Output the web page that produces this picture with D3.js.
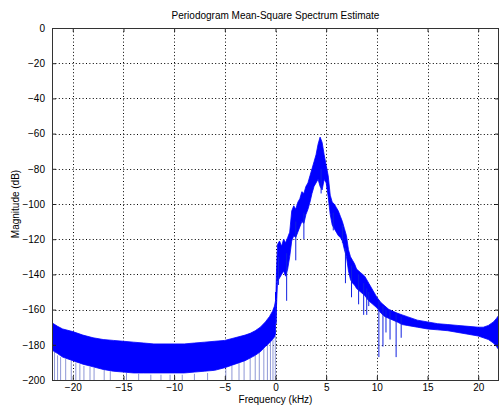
<!DOCTYPE html>
<html>
<head>
<meta charset="utf-8">
<script src="https://cdn.jsdelivr.net/npm/d3@7"></script>
<style>
  body { margin: 0; background: #fff; }
  text { font-family: "Liberation Sans", Arial, Helvetica, sans-serif; font-size: 10px; fill: #000; }
</style>
</head>
<body>
<div class="container"></div>
<script>
// DATA (kHz, dB)
const negFreq = [-22.05, -21.5, -21, -20, -19, -18, -17, -16, -15, -14, -13, -12, -11, -10, -9, -8, -7, -6, -5, -4, -3, -2.5, -2, -1.5, -1, -0.6, -0.3, -0.1, 0];
const negUpper = [-167.5, -169.5, -171, -172.5, -174.5, -176, -177, -177.5, -178, -178.5, -179, -179.5, -179.5, -179.5, -179.5, -179, -178.5, -178, -177.5, -176, -174.5, -173.5, -172, -170, -167, -164, -161, -158, -155];
const negLower = [-183, -185, -187, -189, -191, -192.5, -194, -195, -195.5, -196, -196, -196, -196, -196, -196, -195.5, -195, -194.5, -193, -191, -189, -187.5, -186, -184, -181, -179, -177, -175.5, -174];

const posFreq = [0.05, 0.1, 0.2, 0.4, 0.6, 0.8, 1.0, 1.2, 1.4, 1.6, 1.8, 2.0, 2.2, 2.4, 2.6, 2.8, 3.0, 3.2, 3.4, 3.6, 3.8, 4.0, 4.2, 4.4, 4.6, 4.8, 5.0, 5.2, 5.4, 5.6, 5.8, 6.0, 6.2, 6.4, 6.6, 6.8, 7.0, 7.2, 7.4, 7.6, 7.8, 8.0, 8.4, 8.8, 9.2, 9.6, 10.0, 10.4, 10.8, 11.2, 11.6, 12.0, 12.5, 13, 14, 15, 16, 17, 18, 19, 20, 20.5, 21, 21.5, 21.8, 22.05];
const posUpper = [-150, -138, -123, -121, -124, -120, -122, -119, -116, -104, -101, -103, -99, -97, -93, -94, -90, -88, -84, -80, -76, -72, -66, -62, -65, -72, -78, -84, -95, -99, -100, -102, -104, -107, -110, -114, -118, -126, -130, -132, -134, -137, -139, -141, -145, -149, -153, -156, -158, -160, -161, -162, -163, -164, -166, -167, -168, -168.5, -169, -169.5, -170, -170, -169, -167, -165, -163];
const posLower = [-168, -158, -144, -142, -140, -138, -141, -137, -130, -121, -118, -119, -116, -113, -110, -111, -106, -103, -99, -94, -90, -88, -86, -90, -92, -86, -88, -96, -106, -112, -114, -116, -118, -119, -121, -126, -130, -138, -143, -145, -146, -148, -150, -152, -155, -157, -159, -162, -164, -165, -166, -167, -168.5, -169, -170, -171, -171.5, -172, -173, -174, -175, -176, -177, -179, -181, -183];

// deep dips below the band
const notchFreq = [0.3, 1.1, 2.0, 2.8, 4.5, 5.7, 6.6, 6.9, 7.5, 8.2, 8.7, 9.0, 9.2, 10.2, 10.6, 10.9, 11.3, 11.9, 12.4];
const notchTop = [-130, -128, -110, -105, -80, -105, -112, -125, -135, -140, -145, -148, -150, -155, -158, -160, -160, -162, -164];
const notchLow = [-146, -155, -132, -120, -94, -115, -122, -145, -153, -157, -163, -163, -158, -187, -181, -173, -177, -187, -176];

// faint lines down to the floor on the negative side
const floorFreq = [-22.0, -21.8, -21.5, -21.2, -20.7, -20.15, -19.7, -19.3, -18.9, -18.3, -17.9, -16.9, -16.3, -14.7, -13.5, -12.3, -11.3, -10.4, -9.2, -8.0, -6.7, -4.9, -4.3, -3.6, -3.1, -2.5, -2.0, -1.6, -1.15, -0.8, -0.5, -0.25, -0.02];
const floorTop = [-183, -184, -186, -187, -188, -189, -190, -191, -192, -192.5, -193, -194, -195, -196, -196.5, -197, -197, -197, -197, -196.5, -196, -193.5, -192, -190, -189, -187.5, -186, -184.5, -182, -180, -178.5, -177, -175];

const xTicks = [-20, -15, -10, -5, 0, 5, 10, 15, 20];
const yTicks = [0, -20, -40, -60, -80, -100, -120, -140, -160, -180, -200];

// RENDER
const width = 500;
const height = 407;
const margin = { top: 28, right: 1, bottom: 27, left: 52 };

const x = d3.scaleLinear().domain([-22.05, 22.05]).range([margin.left, width - margin.right]);
const y = d3.scaleLinear().domain([-200, 0]).range([height - margin.bottom, margin.top]);

const svg = d3.select(".container")
  .append("svg")
  .attr("width", width)
  .attr("height", height);

svg.append("defs").append("clipPath")
  .attr("id", "plot")
  .append("rect")
  .attr("x", x.range()[0])
  .attr("y", y.range()[1])
  .attr("width", x.range()[1] - x.range()[0])
  .attr("height", y.range()[0] - y.range()[1]);

// grid
const grid = svg.append("g")
  .attr("stroke", "#000")
  .attr("stroke-width", 1)
  .attr("stroke-dasharray", "1,2.4");

grid.selectAll(".vgrid")
  .data(xTicks)
  .enter()
  .append("line")
  .attr("x1", d => Math.round(x(d)) + 0.5)
  .attr("x2", d => Math.round(x(d)) + 0.5)
  .attr("y1", y(0))
  .attr("y2", y(-200));

grid.selectAll(".hgrid")
  .data(yTicks.slice(1, -1))
  .enter()
  .append("line")
  .attr("y1", d => Math.round(y(d)) + 0.5)
  .attr("y2", d => Math.round(y(d)) + 0.5)
  .attr("x1", x.range()[0])
  .attr("x2", x.range()[1]);

// spectrum
const plot = svg.append("g").attr("clip-path", "url(#plot)");

const band = (freq, upper, lower) =>
  freq.map((f, i) => ({ f, hi: upper[i], lo: lower[i] }));

const area = d3.area()
  .x(d => x(d.f))
  .y0(d => y(d.lo))
  .y1(d => y(d.hi));

plot.selectAll(".floor")
  .data(floorFreq)
  .enter()
  .append("line")
  .attr("class", "floor")
  .attr("x1", d => x(d))
  .attr("x2", d => x(d))
  .attr("y1", (_, i) => y(floorTop[i]))
  .attr("y2", y(-200))
  .attr("stroke", "#8e97d6")
  .attr("stroke-width", 1);

plot.selectAll(".band")
  .data([band(negFreq, negUpper, negLower), band(posFreq, posUpper, posLower)])
  .enter()
  .append("path")
  .attr("class", "band")
  .attr("d", area)
  .attr("fill", "#0000ff")
  .attr("stroke", "#0000ff")
  .attr("stroke-width", 0.8);

plot.selectAll(".notch")
  .data(notchFreq)
  .enter()
  .append("line")
  .attr("class", "notch")
  .attr("x1", d => x(d))
  .attr("x2", d => x(d))
  .attr("y1", (_, i) => y(notchTop[i]))
  .attr("y2", (_, i) => y(notchLow[i]))
  .attr("stroke", "#1020e0")
  .attr("stroke-width", 1);

// join at 0 Hz
plot.append("line")
  .attr("x1", x(0))
  .attr("x2", x(0))
  .attr("y1", y(negUpper[negUpper.length - 1]))
  .attr("y2", y(posUpper[0]))
  .attr("stroke", "#0000ff");

// axes, ticks pointing inward
const axisStyle = g => {
  g.select(".domain").remove();
  g.selectAll(".tick line").attr("stroke", "#222");
  g.selectAll("text").attr("font-family", null).attr("font-size", null);
};

svg.append("g")
  .attr("transform", `translate(0,${y(-200)})`)
  .call(d3.axisBottom(x).tickValues(xTicks).tickSize(-4).tickPadding(4).tickFormat(d3.format("d")))
  .call(axisStyle);

svg.append("g")
  .attr("transform", `translate(0,${y(0)})`)
  .call(d3.axisTop(x).tickValues(xTicks).tickSize(-4).tickFormat(""))
  .call(axisStyle);

svg.append("g")
  .attr("transform", `translate(${x.range()[0]},0)`)
  .call(d3.axisLeft(y).tickValues(yTicks).tickSize(-4).tickPadding(7).tickFormat(d3.format("d")))
  .call(axisStyle);

svg.append("g")
  .attr("transform", `translate(${x.range()[1]},0)`)
  .call(d3.axisRight(y).tickValues(yTicks).tickSize(-4).tickFormat(""))
  .call(axisStyle);

svg.append("rect")
  .attr("x", x.range()[0] + 0.5)
  .attr("y", y(0) + 0.5)
  .attr("width", x.range()[1] - x.range()[0] - 1)
  .attr("height", y(-200) - y(0))
  .attr("fill", "none")
  .attr("stroke", "#333");

// labels
svg.append("text")
  .attr("x", (x.range()[0] + x.range()[1]) / 2)
  .attr("y", 19)
  .attr("text-anchor", "middle")
  .text("Periodogram Mean-Square Spectrum Estimate");

svg.append("text")
  .attr("x", (x.range()[0] + x.range()[1]) / 2)
  .attr("y", 403)
  .attr("text-anchor", "middle")
  .text("Frequency (kHz)");

svg.append("text")
  .attr("transform", `translate(19,${(y(0) + y(-200)) / 2}) rotate(-90)`)
  .attr("text-anchor", "middle")
  .text("Magnitude (dB)");
</script>
</body>
</html>
